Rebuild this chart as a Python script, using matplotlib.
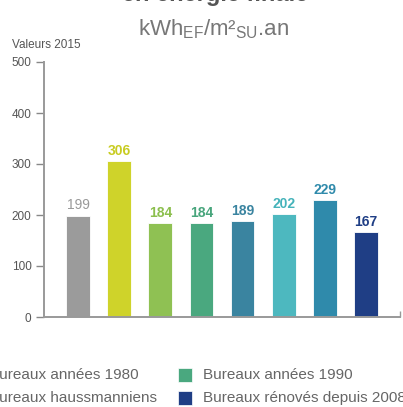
import matplotlib.pyplot as plt
import matplotlib.patches as mpatches

plt.rcParams['font.family'] = ['Liberation Sans', 'DejaVu Sans']
plt.rcParams['mathtext.fontset'] = 'custom'
plt.rcParams['mathtext.rm'] = 'Liberation Sans'

# values
values = [199, 306, 184, 184, 189, 202, 229, 167]
colors = ['#9b9b9b', '#cfd32a', '#8fc153', '#4aa87f', '#3a84a0', '#4db8bf', '#2f8aab', '#1f3e85']
label_colors = ['#999999', '#c8cc22', '#8cbf4e', '#48a57c', '#3a84a0', '#45b3ba', '#2f8aab', '#1f3e85']
yticks = [0, 100, 200, 300, 400, 500]

legend_left = ['Bureaux années 1980', 'Bureaux haussmanniens']
legend_left_colors = ['#9b9b9b', '#9b9b9b']
legend_right = ['Bureaux années 1990', 'Bureaux rénovés depuis 2008']
legend_right_colors = ['#4aa87f', '#1f3e85']

W, H = 403, 407
fig = plt.figure(figsize=(W / 100, H / 100), dpi=100)
ax = fig.add_axes([44 / W, 90 / H, 356 / W, 255 / H])

x = list(range(len(values)))
ax.bar(x, values, width=0.58, color=colors, edgecolor='white', linewidth=0.6)
for i, v in enumerate(values):
    ax.text(i, v + 6, str(v), ha='center', va='bottom', fontsize=10,
            color=label_colors[i], fontweight='normal' if i == 0 else 'bold')

ax.set_xlim(-0.83, 7.83)
ax.set_ylim(0, 500)
ax.set_yticks(yticks)
ax.set_xticks([7.83])
ax.set_xticklabels([''])
ax.tick_params(axis='y', direction='out', length=6, width=1, color='#888888',
               labelcolor='#555555', labelsize=8.5, pad=3)
ax.tick_params(axis='x', direction='in', length=4, width=1, color='#999999')
for s in ['top', 'right']:
    ax.spines[s].set_visible(False)
for s in ['left', 'bottom']:
    ax.spines[s].set_color('#999999')
    ax.spines[s].set_linewidth(1.4)

# titles (cropped at the top)
fig.text(215 / W, 1 - 1 / H, 'en énergie finale', ha='center', va='baseline',
         fontsize=17, fontweight='bold', color='#555555')
fig.text(214 / W, 1 - 35 / H, r'kWh$_{\mathregular{EF}}$/m²$_{\mathregular{SU}}$.an',
         ha='center', va='baseline', fontsize=16, color='#777777')
fig.text(12 / W, 1 - 48 / H, 'Valeurs 2015', ha='left', va='baseline',
         fontsize=8.5, color='#555555',
         family=['Liberation Sans Narrow', 'Liberation Sans'])

# legend (cropped at left and right)
rows_y = [375, 398]
for i in range(2):
    y = rows_y[i]
    fig.patches.append(mpatches.Rectangle((178 / W, 1 - (y + 7) / H), 14 / W, 14 / H,
                                          transform=fig.transFigure, facecolor=legend_right_colors[i],
                                          edgecolor='white', linewidth=0.5))
    fig.text(203 / W, 1 - y / H, legend_right[i], ha='left', va='center',
             fontsize=11, color='#666666')
    fig.patches.append(mpatches.Rectangle((-36 / W, 1 - (y + 7) / H), 14 / W, 14 / H,
                                          transform=fig.transFigure, facecolor=legend_left_colors[i]))
    fig.text(-11 / W, 1 - y / H, legend_left[i], ha='left', va='center',
             fontsize=11, color='#666666')

fig.savefig('out.png', dpi=100)
